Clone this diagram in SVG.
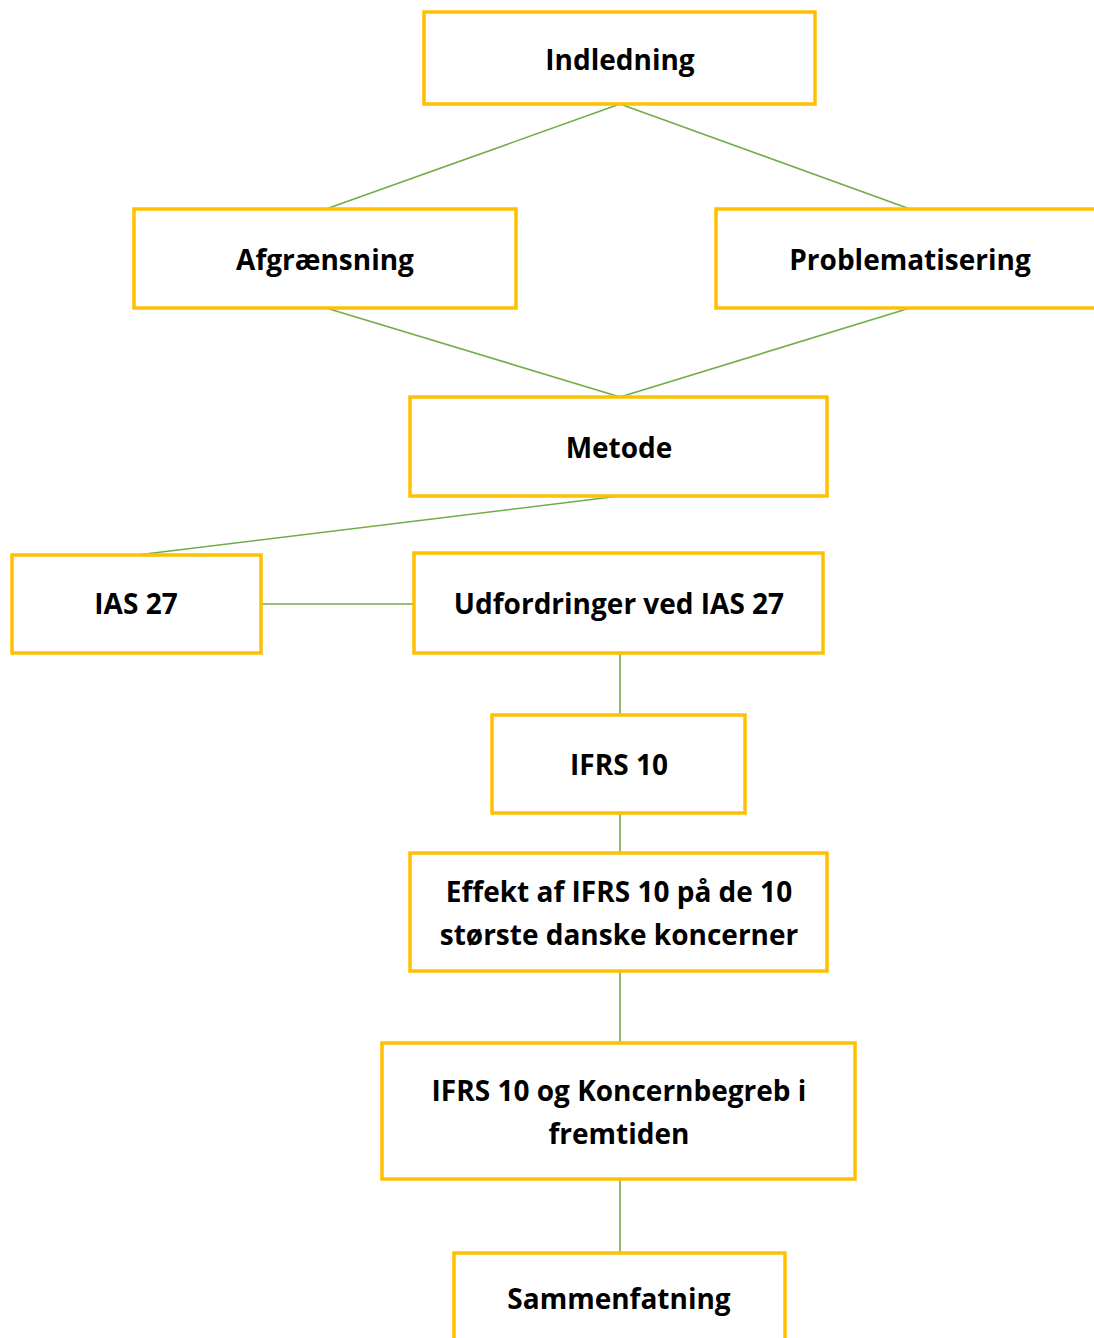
<svg xmlns="http://www.w3.org/2000/svg" width="1094" height="1338" viewBox="0 0 1094 1338">
<style>
.box{fill:#fff;stroke:#FFC000;stroke-width:3.5}
.t{font-family:"Open Sans","Liberation Sans",sans-serif;font-weight:bold;font-size:28px;fill:#000;text-anchor:middle;dominant-baseline:central}
.c{stroke:#70AD47;stroke-width:1.6;fill:none}
</style>
<rect width="1094" height="1338" fill="#fff"/>
<g id="connectors">
<line class="c" x1="620" y1="104" x2="326" y2="209"/>
<line class="c" x1="620" y1="104" x2="910" y2="209"/>
<line class="c" x1="326" y1="308" x2="620" y2="397"/>
<line class="c" x1="910" y1="308" x2="620" y2="397"/>
<line class="c" x1="620" y1="496" x2="137" y2="555"/>
<line class="c" x1="261" y1="604" x2="414" y2="604"/>
<line class="c" x1="620" y1="653" x2="620" y2="715"/>
<line class="c" x1="620" y1="813" x2="620" y2="853"/>
<line class="c" x1="620" y1="971" x2="620" y2="1043"/>
<line class="c" x1="620" y1="1179" x2="620" y2="1253"/>
</g>
<g id="indledning"><rect class="box" x="424" y="12" width="391" height="92"/><text class="t" x="620" y="59">Indledning</text></g>
<g id="afgraensning"><rect class="box" x="134" y="209" width="382" height="99"/><text class="t" x="325" y="259">Afgrænsning</text></g>
<g id="problematisering"><rect class="box" x="716" y="209" width="390" height="99"/><text class="t" x="910" y="259">Problematisering</text></g>
<g id="metode"><rect class="box" x="410" y="397" width="417" height="99"/><text class="t" x="619" y="447">Metode</text></g>
<g id="ias27"><rect class="box" x="12" y="555" width="249" height="98"/><text class="t" x="136" y="603">IAS 27</text></g>
<g id="udfordringer"><rect class="box" x="414" y="553" width="409" height="100"/><text class="t" x="619" y="603">Udfordringer ved IAS 27</text></g>
<g id="ifrs10"><rect class="box" x="492" y="715" width="253" height="98"/><text class="t" x="619" y="764">IFRS 10</text></g>
<g id="effekt"><rect class="box" x="410" y="853" width="417" height="118"/><text class="t" x="619" y="891">Effekt af IFRS 10 på de 10</text><text class="t" x="619" y="934">største danske koncerner</text></g>
<g id="koncernbegreb"><rect class="box" x="382" y="1043" width="473" height="136"/><text class="t" x="619" y="1090">IFRS 10 og Koncernbegreb i</text><text class="t" x="619" y="1133">fremtiden</text></g>
<g id="sammenfatning"><rect class="box" x="454" y="1253" width="331" height="100"/><text class="t" x="619" y="1298">Sammenfatning</text></g>
</svg>
